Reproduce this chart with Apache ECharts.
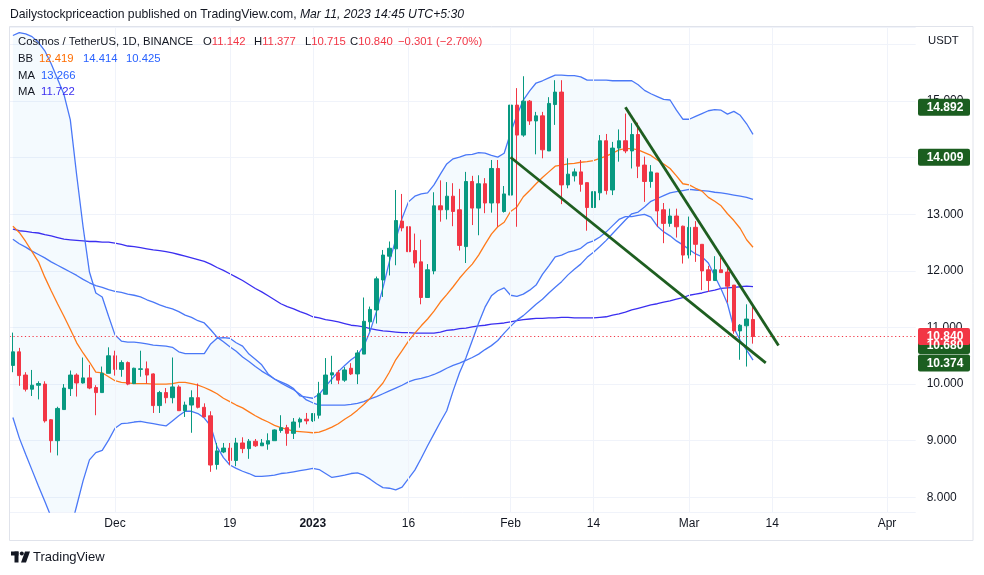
<!DOCTYPE html>
<html><head><meta charset="utf-8">
<script src="https://cdn.jsdelivr.net/npm/echarts@6/dist/echarts.min.js"></script>
<style>html,body{margin:0;padding:0;background:#fff}#c{width:984px;height:575px}</style>
</head><body><div id="c"></div>
<script>
// ---------- data ----------
const firstDay = [2022, 10, 15];   // Nov 15 2022 (month index 10)
const dayCount = 142;              // through Apr 5 2023
const tickDates = ['2022-12-01','2022-12-19','2023-01-01','2023-01-16','2023-02-01','2023-02-14','2023-03-01','2023-03-14','2023-04-01'];
const tickLabels = ['Dec','19','2023','16','Feb','14','Mar','14','Apr'];

// [open, close, low, high] per day from Nov 15 2022 to Mar 11 2023
const candles = [
[10.33,10.57,10.21,10.91],[10.57,10.15,9.97,10.64],[10.16,9.91,9.87,10.21],[9.91,9.98,9.79,10.25],[9.98,10.01,9.73,10.05],
[10.00,9.35,9.32,10.05],[9.37,9.00,8.79,9.38],[9.00,9.57,8.74,9.60],[9.55,9.93,9.55,10.00],[9.92,10.16,9.79,10.24],
[10.16,10.02,9.78,10.19],[10.02,10.11,10.01,10.47],[10.11,9.93,9.91,10.34],[9.94,9.85,9.45,9.98],[9.85,10.19,9.85,10.31],
[10.19,10.50,10.19,10.65],[10.50,10.26,10.15,10.59],[10.26,10.38,10.13,10.42],[10.38,10.00,9.98,10.40],[10.01,10.28,10.00,10.29],
[10.26,10.27,10.13,10.59],[10.27,10.16,10.01,10.40],[10.18,9.62,9.49,10.19],[9.62,9.85,9.49,9.88],[9.85,9.76,9.66,9.93],
[9.76,9.95,9.66,10.47],[9.95,9.53,9.53,9.98],[9.53,9.63,9.42,9.69],[9.63,9.76,9.14,9.89],[9.76,9.59,9.57,10.01],
[9.59,9.42,9.42,9.66],[9.44,8.57,8.45,9.52],[8.58,8.82,8.49,8.96],[8.80,8.87,8.78,8.96],[8.87,8.65,8.57,8.96],
[8.65,8.96,8.55,9.05],[8.96,8.86,8.78,9.06],[8.86,8.99,8.68,9.03],[8.99,8.91,8.89,9.03],[8.91,8.96,8.91,9.03],
[8.94,9.00,8.84,9.13],[9.00,9.19,9.00,9.20],[9.18,9.23,9.14,9.45],[9.23,9.13,8.91,9.28],[9.13,9.33,9.03,9.40],
[9.33,9.38,9.23,9.41],[9.38,9.35,9.29,9.49],[9.35,9.48,9.33,9.48],[9.45,9.83,9.39,10.04],[9.82,10.16,9.82,10.46],
[10.16,10.20,10.00,10.50],[10.20,10.07,10.00,10.25],[10.07,10.25,10.04,10.30],[10.28,10.18,10.16,10.37],[10.18,10.55,10.00,10.60],
[10.53,11.11,10.53,11.53],[11.10,11.32,10.93,11.37],[11.31,11.86,11.07,11.90],[11.84,12.28,11.54,12.37],[12.26,12.40,11.92,12.52],
[12.39,12.89,12.10,13.43],[12.88,12.76,12.70,13.36],[12.78,12.34,12.06,13.08],[12.36,12.14,12.06,12.66],[12.16,11.53,11.41,12.55],
[11.53,12.02,11.53,12.12],[12.00,13.15,11.94,13.39],[13.15,13.08,12.87,13.60],[13.08,13.32,12.91,13.57],[13.32,13.05,12.79,13.55],
[13.08,12.45,12.36,13.45],[12.43,13.58,12.14,13.75],[13.58,13.11,12.81,13.68],[13.11,13.54,12.63,13.69],[13.54,13.20,13.02,13.64],
[13.20,13.81,13.03,13.96],[13.81,13.20,12.78,13.96],[13.05,13.36,13.03,13.50],[13.34,14.93,13.28,14.96],[14.93,14.40,12.78,15.23],
[14.40,15.00,14.37,15.44],[15.00,14.65,14.58,15.02],[14.65,14.74,14.06,14.81],[14.74,14.14,13.99,14.81],[14.12,14.96,14.12,15.07],
[14.94,15.16,14.58,15.37],[15.16,13.52,13.18,15.37],[13.52,13.71,13.46,13.99],[13.68,13.75,13.58,13.81],[13.75,13.53,13.40,13.96],
[13.56,13.12,12.71,13.56],[13.12,13.40,12.96,13.58],[13.38,14.30,13.25,14.40],[14.30,13.42,13.35,14.42],[13.43,14.17,13.34,14.28],
[14.17,14.30,13.93,14.50],[14.30,14.12,14.08,14.78],[14.12,14.41,13.81,14.61],[14.41,13.85,13.64,14.62],[13.87,13.58,13.22,14.02],
[13.58,13.75,13.47,13.87],[13.73,13.06,12.78,13.73],[13.08,12.84,12.49,13.20],[12.84,12.97,12.78,13.10],[12.97,12.78,12.59,13.10],
[12.79,12.28,12.13,12.80],[12.28,12.77,12.22,12.96],[12.77,12.47,12.16,12.88],[12.47,12.00,11.66,12.47],[12.02,11.83,11.63,12.09],
[11.83,12.02,11.83,12.26],[12.02,11.97,11.97,12.24],[11.98,11.73,11.44,12.06],[11.75,10.94,10.89,11.75],[10.94,11.04,10.43,11.06],
[11.03,11.15,10.31,11.41],[11.142,10.840,10.715,11.377]
];

const bbBasis = [12.79,12.68,12.52,12.34,12.16,11.89,11.65,11.42,11.20,10.97,
10.73,10.55,10.39,10.21,10.20,10.13,10.06,10.03,10.02,10.01,
10.01,10.01,10.00,10.00,10.00,10.01,10.03,10.03,10.01,9.98,
9.94,9.89,9.83,9.75,9.69,9.63,9.58,9.51,9.44,9.38,
9.33,9.27,9.23,9.20,9.17,9.16,9.15,9.14,9.15,9.19,
9.24,9.30,9.38,9.45,9.54,9.64,9.75,9.89,10.02,10.21,
10.43,10.59,10.76,10.90,11.03,11.15,11.29,11.45,11.58,11.72,
11.87,12.00,12.12,12.28,12.47,12.65,12.78,12.86,13.05,13.13,
13.31,13.42,13.54,13.65,13.75,13.85,13.87,13.89,13.90,13.92,
13.93,13.95,13.99,14.03,14.08,14.14,14.16,14.16,14.14,14.09,
14.04,13.96,13.89,13.81,13.68,13.54,13.52,13.46,13.41,13.30,
13.23,13.15,13.01,12.89,12.75,12.55,12.419];

const bbUpper = [16.16,16.21,16.19,16.14,16.04,15.89,15.66,15.39,15.12,14.67,
13.69,12.78,11.98,11.61,11.54,11.20,10.87,10.76,10.74,10.74,
10.73,10.71,10.69,10.68,10.67,10.65,10.57,10.54,10.54,10.54,
10.54,10.71,10.81,10.82,10.81,10.73,10.67,10.53,10.44,10.34,
10.18,10.09,10.04,9.99,9.92,9.79,9.77,9.75,9.82,9.96,
10.09,10.22,10.33,10.43,10.51,10.67,10.94,11.29,11.70,12.16,
12.55,12.93,13.22,13.32,13.36,13.38,13.52,13.71,13.89,13.98,
14.01,14.05,14.06,14.09,14.08,14.04,14.01,14.08,14.44,14.75,
15.02,15.18,15.32,15.36,15.41,15.46,15.46,15.45,15.45,15.43,
15.37,15.37,15.37,15.37,15.36,15.36,15.36,15.36,15.29,15.19,
15.13,15.08,15.03,15.02,14.84,14.68,14.68,14.73,14.78,14.83,
14.85,14.84,14.77,14.82,14.75,14.60,14.414];

const bbLower = [9.41,9.05,8.76,8.48,8.20,7.93,7.65,7.46,7.30,7.42,
7.85,8.29,8.66,8.79,8.83,9.01,9.22,9.30,9.31,9.33,
9.34,9.32,9.30,9.28,9.26,9.35,9.44,9.52,9.52,9.48,
9.40,9.26,8.89,8.70,8.57,8.51,8.46,8.42,8.37,8.37,
8.38,8.39,8.42,8.43,8.45,8.47,8.49,8.51,8.49,8.42,
8.35,8.37,8.39,8.42,8.43,8.39,8.32,8.24,8.17,8.16,
8.13,8.18,8.33,8.48,8.69,8.91,9.12,9.33,9.53,9.88,
10.20,10.46,10.77,11.08,11.36,11.56,11.65,11.70,11.57,11.55,
11.59,11.66,11.75,11.94,12.09,12.25,12.28,12.33,12.36,12.40,
12.49,12.53,12.60,12.69,12.80,12.91,12.96,12.96,12.98,13.00,
12.95,12.79,12.69,12.62,12.53,12.46,12.38,12.30,12.25,12.14,
11.91,11.68,11.42,10.99,10.77,10.60,10.425];

const maFast = [12.56,12.48,12.42,12.35,12.29,12.23,12.16,12.10,12.04,11.98,
11.92,11.85,11.79,11.74,11.71,11.67,11.64,11.62,11.59,11.57,
11.54,11.49,11.45,11.40,11.36,11.33,11.28,11.22,11.18,11.12,
11.08,10.96,10.83,10.75,10.66,10.58,10.48,10.40,10.31,10.23,
10.16,10.09,10.02,9.96,9.90,9.82,9.72,9.67,9.63,9.63,
9.63,9.63,9.63,9.64,9.66,9.69,9.74,9.78,9.83,9.88,
9.93,9.98,10.04,10.08,10.10,10.13,10.17,10.22,10.28,10.33,
10.37,10.42,10.47,10.53,10.61,10.68,10.77,10.90,11.02,11.13,
11.21,11.31,11.41,11.50,11.61,11.71,11.81,11.93,12.03,12.12,
12.24,12.33,12.43,12.54,12.66,12.78,12.90,13.01,13.04,13.13,
13.23,13.28,13.33,13.38,13.40,13.42,13.44,13.43,13.42,13.41,
13.39,13.38,13.36,13.34,13.32,13.30,13.266];

const maSlow = [12.74,12.71,12.70,12.68,12.67,12.64,12.62,12.59,12.56,12.55,
12.54,12.53,12.52,12.52,12.51,12.51,12.49,12.47,12.44,12.43,
12.41,12.39,12.37,12.36,12.34,12.32,12.29,12.26,12.23,12.20,
12.17,12.12,12.06,12.01,11.95,11.89,11.83,11.76,11.69,11.63,
11.56,11.49,11.42,11.37,11.33,11.28,11.24,11.19,11.17,11.14,
11.12,11.10,11.07,11.04,11.03,11.01,10.98,10.96,10.94,10.93,
10.92,10.91,10.91,10.90,10.90,10.90,10.90,10.92,10.95,10.96,
10.98,10.99,11.01,11.03,11.04,11.06,11.07,11.08,11.10,11.12,
11.14,11.15,11.16,11.16,11.17,11.17,11.18,11.18,11.17,11.17,
11.17,11.17,11.18,11.19,11.22,11.24,11.27,11.31,11.34,11.37,
11.40,11.42,11.45,11.47,11.50,11.53,11.57,11.59,11.61,11.64,
11.66,11.69,11.70,11.71,11.72,11.73,11.722];

// trend lines: [day index from Nov 15, price]
const trendUpper = [[96, 14.892], [120, 10.680]];
const trendLower = [[78, 14.009], [118, 10.374]];
const lastPrice = 10.840;
const greenTags = [14.892, 14.009, 10.680, 10.374];

// ---------- build ----------
const categories = [];
(function () {
  const t0 = Date.UTC(firstDay[0], firstDay[1], firstDay[2]);
  for (let i = 0; i < dayCount; i++) categories.push(new Date(t0 + i * 86400000).toISOString().slice(0, 10));
})();
const bandSpan = bbUpper.map((u, i) => +(u - bbLower[i]).toFixed(4));

const FONT = 'Liberation Sans, Arial, sans-serif';
const TXT = '#131722', UP = '#089981', DOWN = '#F23645', ORANGE = '#FF6D00';
const BLUE = '#4a78f7', INDIGO = '#3b2ff0', TRENDC = '#1E5E20';
const LFS = 11.3;

const chart = echarts.init(document.getElementById('c'), null, { renderer: 'canvas' });

function lineSeries(name, data, color, z) {
  return { name, type: 'line', data, symbol: 'none', smooth: false, silent: true, z,
    lineStyle: { color, width: 1.3 }, itemStyle: { color } };
}

const option = {
  animation: false,
  backgroundColor: '#ffffff',
  textStyle: { fontFamily: FONT },
  grid: { left: 9.7, right: 68.3, top: 27, bottom: 63, containLabel: false },
  xAxis: [
    { type: 'category', data: categories, boundaryGap: true,
      axisLine: { show: false }, axisTick: { show: false }, splitLine: { show: false },
      axisLabel: { interval: (i, v) => tickDates.indexOf(v) >= 0, color: TXT, fontSize: 12, margin: 6, fontFamily: FONT,
        formatter: v => { const k = tickDates.indexOf(v); if (k < 0) return ''; const s = tickLabels[k]; return /^\d{4}$/.test(s) ? '{b|' + s + '}' : s; },
        rich: { b: { fontWeight: 'bold', fontSize: 12, color: TXT, fontFamily: FONT } } } },
    { type: 'value', min: -0.5, max: dayCount - 0.5, show: false }
  ],
  yAxis: { type: 'value', position: 'right', min: 7.74, max: 16.31, splitNumber: 9,
    axisLine: { show: false }, axisTick: { show: false },
    splitLine: { lineStyle: { color: '#F0F3FA', width: 1 } },
    axisLabel: { color: TXT, fontSize: 12, margin: 11, fontFamily: FONT,
      formatter: v => (Math.abs(v - Math.round(v)) < 1e-6 && v < 15.5) ? v.toFixed(3) : '' } },
  series: [
    { name: 'bbBase', type: 'line', data: bbLower, stack: 'bb', symbol: 'none', silent: true, z: 1,
      lineStyle: { width: 0, opacity: 0 },
      markLine: { silent: true, symbol: 'none', label: { show: false },
        lineStyle: { color: '#F0F3FA', width: 1, type: 'solid' },
        data: tickDates.map(d => ({ xAxis: d })) } },
    { name: 'bbFill', type: 'line', data: bandSpan, stack: 'bb', symbol: 'none', silent: true, z: 1,
      lineStyle: { width: 0, opacity: 0 }, areaStyle: { color: 'rgba(33,150,243,0.05)', opacity: 1 } },
    lineSeries('maSlow', maSlow, INDIGO, 2),
    lineSeries('maFast', maFast, BLUE, 2),
    lineSeries('bbUpper', bbUpper, BLUE, 2),
    lineSeries('bbLower', bbLower, BLUE, 2),
    lineSeries('bbBasis', bbBasis, '#FF7A1A', 2),
    { name: 'ATOMUSDT', type: 'candlestick', data: candles, barWidth: 3.9, z: 3,
      itemStyle: { color: UP, color0: DOWN, borderColor: UP, borderColor0: DOWN, borderWidth: 1 },
      markLine: { silent: true, symbol: 'none', label: { show: false },
        lineStyle: { color: DOWN, width: 1, type: [1.2, 2.6] },
        data: [{ yAxis: lastPrice }] } },
    { name: 'trendUpper', type: 'line', xAxisIndex: 1, data: trendUpper, symbol: 'none', silent: true, z: 5,
      lineStyle: { color: TRENDC, width: 2.8 } },
    { name: 'trendLower', type: 'line', xAxisIndex: 1, data: trendLower, symbol: 'none', silent: true, z: 5,
      lineStyle: { color: TRENDC, width: 2.8 } }
  ]
};
chart.setOption(option);

// ---------- overlay texts & price tags ----------
function txt(x, y, text, fill) {
  return { type: 'text', x, y, z: 100, silent: true,
    style: { text, fill, fontSize: LFS, fontFamily: FONT, verticalAlign: 'middle' } };
}
function rtxt(x, y, text, rich, fs) {
  return { type: 'text', x, y, z: 100, silent: true,
    style: { text, fontSize: fs || LFS, fontFamily: FONT, verticalAlign: 'middle', rich } };
}
const legendRich = { k: { fill: TXT, fontSize: LFS, fontFamily: FONT }, v: { fill: DOWN, fontSize: LFS, fontFamily: FONT } };
function tag(value, color) {
  const y = chart.convertToPixel({ yAxisIndex: 0 }, value);
  return { type: 'group', z: 110, silent: true, children: [
    { type: 'rect', z: 110, shape: { x: 918, y: y - 8.5, width: 52, height: 17, r: 2 }, style: { fill: color } },
    { type: 'text', z: 111, x: 945, y: y + 0.5, style: { text: value.toFixed(3), fill: '#ffffff', fontSize: 12, fontWeight: 'bold', fontFamily: FONT, align: 'center', verticalAlign: 'middle' } }
  ] };
}
const g = [
  { type: 'rect', z: 90, silent: true, shape: { x: 9.5, y: 26.5, width: 963.5, height: 514 }, style: { fill: 'none', stroke: '#E0E3EB', lineWidth: 1 } },
  rtxt(10, 15, '{n|Dailystockpriceaction published on TradingView.com, }{i|Mar 11, 2023 14:45 UTC+5:30}',
    { n: { fill: '#131722', fontSize: 12.2, fontFamily: FONT }, i: { fill: '#131722', fontSize: 12.2, fontStyle: 'italic', fontFamily: FONT } }, 12.2),
  txt(18, 42, 'Cosmos / TetherUS, 1D, BINANCE', TXT),
  rtxt(203, 42, '{k|O}{v|11.142}', legendRich),
  rtxt(254, 42, '{k|H}{v|11.377}', legendRich),
  rtxt(305, 42, '{k|L}{v|10.715}', legendRich),
  rtxt(350, 42, '{k|C}{v|10.840}', legendRich),
  rtxt(398, 42, '{v|\u22120.301 (\u22122.70%)}', legendRich),
  txt(18, 59, 'BB', TXT), txt(39, 59, '12.419', ORANGE), txt(83, 59, '14.414', '#2962FF'), txt(126, 59, '10.425', '#2962FF'),
  txt(18, 75.5, 'MA', TXT), txt(41, 75.5, '13.266', '#2962FF'),
  txt(18, 92, 'MA', TXT), txt(41, 92, '11.722', INDIGO),
  txt(928, 41, 'USDT', TXT),
  // TradingView logo + wordmark
  { type: 'rect', z: 100, silent: true, shape: { x: 11, y: 551.5, width: 7.5, height: 4 }, style: { fill: TXT } },
  { type: 'rect', z: 100, silent: true, shape: { x: 14.5, y: 551.5, width: 4, height: 11 }, style: { fill: TXT } },
  { type: 'circle', z: 100, silent: true, shape: { cx: 21.8, cy: 553.5, r: 2 }, style: { fill: TXT } },
  { type: 'polygon', z: 100, silent: true, shape: { points: [[25, 551.5], [30, 551.5], [26, 562.5], [21, 562.5]] }, style: { fill: TXT } },
  { type: 'text', z: 100, x: 33, y: 557, silent: true, style: { text: 'TradingView', fill: TXT, fontSize: 13, fontFamily: FONT, verticalAlign: 'middle' } }
];
greenTags.forEach(v => g.push(tag(v, '#1B5E20')));
g.push(tag(lastPrice, DOWN));
chart.setOption({ graphic: g });
</script></body></html>
